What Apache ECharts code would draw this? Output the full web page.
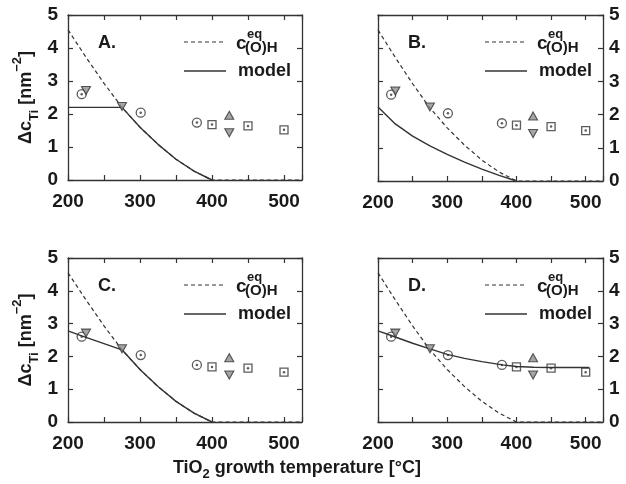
<!DOCTYPE html>
<html>
<head>
<meta charset="utf-8">
<script src="https://cdn.jsdelivr.net/npm/echarts@6/dist/echarts.min.js"></script>
<style>
  html, body { margin: 0; padding: 0; background: #fff; }
  #chart { width: 626px; height: 484px; }
</style>
</head>
<body>
<div id="chart"></div>
<script>
// equilibrium OH concentration (dashed)
const eqT = [200, 225, 250, 275, 300, 325, 350, 375, 400, 525];
const eqC = [4.55, 3.72, 2.93, 2.2, 1.6, 1.08, 0.63, 0.27, 0, 0];

// model curves, one per panel
const modelAT = [200, 275, 300, 325, 350, 375, 400];
const modelAC = [2.2, 2.2, 1.6, 1.08, 0.63, 0.27, 0];
const modelBT = [200, 225, 250, 275, 300, 325, 350, 375, 400];
const modelBC = [2.23, 1.72, 1.35, 1.06, 0.8, 0.57, 0.36, 0.17, 0];
const modelCT = [200, 220, 275, 300, 325, 350, 375, 400];
const modelCC = [2.78, 2.62, 2.2, 1.6, 1.08, 0.63, 0.27, 0];
const modelDT = [200, 220, 250, 275, 300, 325, 350, 380, 400, 425, 450, 475, 505];
const modelDC = [2.78, 2.63, 2.4, 2.23, 2.06, 1.94, 1.84, 1.74, 1.69, 1.67, 1.66, 1.66, 1.66];

// experimental points (same in every panel)
const circleT = [219, 301, 379];
const circleC = [2.6, 2.04, 1.74];
const squareT = [400, 450, 500];
const squareC = [1.68, 1.64, 1.52];
const downT = [225, 275, 424];
const downC = [2.71, 2.23, 1.43];
const upT = [424];
const upC = [1.96];

const panelNames = ['A.', 'B.', 'C.', 'D.'];
const xTickLabels = [200, 300, 400, 500];
const yTickLabels = [0, 1, 2, 3, 4, 5];

const modelT = [modelAT, modelBT, modelCT, modelDT];
const modelC = [modelAC, modelBC, modelCC, modelDC];

const zip = (xs, ys) => xs.map((x, i) => [x, ys[i]]);

const ink = '#333';
const font = 'Liberation Sans, Arial, Helvetica, sans-serif';

const grids = [
  { left: 68, top: 15, width: 234, height: 165 },
  { left: 378, top: 15, width: 225, height: 166 },
  { left: 68, top: 258, width: 234, height: 164 },
  { left: 378, top: 258, width: 225, height: 164 }
];

const axisLine = { show: true, onZero: false, lineStyle: { color: ink, width: 1.3 } };
const axisTick = { show: true, inside: true, length: 5, lineStyle: { color: ink, width: 1.2 } };
const labelStyle = { color: '#1a1a1a', fontSize: 19, fontWeight: 'bold', fontFamily: font };

const xAxis = [];
const yAxis = [];
const series = [];
const graphic = [];

grids.forEach((g, i) => {
  const leftPanel = i % 2 === 0;
  xAxis.push({
    gridIndex: i, type: 'value', position: 'bottom', min: 200, max: 525, interval: 50,
    axisLine, axisTick, splitLine: { show: false },
    axisLabel: Object.assign({
      margin: 12,
      formatter: v => (xTickLabels.includes(v) ? String(v) : '')
    }, labelStyle)
  });
  xAxis.push({
    gridIndex: i, type: 'value', position: 'top', min: 200, max: 525, interval: 50,
    axisLine, axisTick, splitLine: { show: false }, axisLabel: { show: false }
  });
  const yMain = {
    gridIndex: i, type: 'value', position: leftPanel ? 'left' : 'right', min: 0, max: 5, interval: 1,
    axisLine, axisTick, splitLine: { show: false },
    axisLabel: Object.assign({
      margin: leftPanel ? 10 : 6,
      formatter: v => (yTickLabels.includes(v) ? String(v) : '')
    }, labelStyle)
  };
  if (leftPanel) {
    yMain.name = '{b|Δc}{sub|Ti}{b| [nm}{sup|−2}{b|]}';
    yMain.nameLocation = 'middle';
    yMain.nameRotate = 90;
    yMain.nameGap = 27;
    yMain.nameTextStyle = {
      color: '#1a1a1a', fontFamily: font, fontWeight: 'bold',
      rich: {
        b: { fontSize: 18, fontWeight: 'bold', fontFamily: font, lineHeight: 30, color: '#1a1a1a' },
        sub: { fontSize: 13, fontWeight: 'bold', fontFamily: font, lineHeight: 20, verticalAlign: 'bottom', color: '#1a1a1a' },
        sup: { fontSize: 13, fontWeight: 'bold', fontFamily: font, lineHeight: 18, verticalAlign: 'top', color: '#1a1a1a' }
      }
    };
  }
  yAxis.push(yMain);
  yAxis.push({
    gridIndex: i, type: 'value', position: leftPanel ? 'right' : 'left', min: 0, max: 5, interval: 1,
    axisLine, axisTick, splitLine: { show: false }, axisLabel: { show: false }
  });

  const xi = i * 2, yi = i * 2;
  series.push({
    type: 'line', name: 'c_eq', xAxisIndex: xi, yAxisIndex: yi, data: zip(eqT, eqC),
    showSymbol: false, z: 2, lineStyle: { color: ink, width: 1.2, type: [4, 3] }
  });
  series.push({
    type: 'line', name: 'model', xAxisIndex: xi, yAxisIndex: yi, data: zip(modelT[i], modelC[i]),
    showSymbol: false, z: 2, lineStyle: { color: ink, width: 1.4 }
  });
  const open = { color: 'rgba(0,0,0,0)', borderColor: ink, borderWidth: 1.3 };
  const gray = { color: '#8f8f8f', borderColor: ink, borderWidth: 1.1 };
  series.push({
    type: 'scatter', xAxisIndex: xi, yAxisIndex: yi, data: zip(circleT, circleC),
    symbol: 'circle', symbolSize: 9, itemStyle: open, z: 3
  });
  series.push({
    type: 'scatter', xAxisIndex: xi, yAxisIndex: yi, data: zip(squareT, squareC),
    symbol: 'rect', symbolSize: 8, itemStyle: open, z: 3
  });
  series.push({
    type: 'scatter', xAxisIndex: xi, yAxisIndex: yi, data: zip(circleT.concat(squareT), circleC.concat(squareC)),
    symbol: 'circle', symbolSize: 2.5, itemStyle: { color: ink }, z: 4
  });
  series.push({
    type: 'scatter', xAxisIndex: xi, yAxisIndex: yi, data: zip(downT, downC),
    symbol: 'triangle', symbolRotate: 180, symbolSize: [9, 8], itemStyle: gray, z: 3
  });
  series.push({
    type: 'scatter', xAxisIndex: xi, yAxisIndex: yi, data: zip(upT, upC),
    symbol: 'triangle', symbolSize: [9, 8], itemStyle: gray, z: 3
  });

  // panel letter and legend
  const R = g.left + g.width, T = g.top;
  const txt = (x, y, text, size) => ({
    type: 'text', x, y, z: 10,
    style: { text, fill: '#1a1a1a', font: `bold ${size}px ${font}`, align: 'left', verticalAlign: 'middle' }
  });
  graphic.push(txt(g.left + 30, T + 28, panelNames[i], 18));
  graphic.push({
    type: 'line', z: 10, shape: { x1: R - 118, y1: T + 27, x2: R - 77, y2: T + 27 },
    style: { stroke: ink, lineWidth: 1.2, lineDash: [4, 3] }
  });
  graphic.push({
    type: 'line', z: 10, shape: { x1: R - 118, y1: T + 56, x2: R - 76, y2: T + 56 },
    style: { stroke: ink, lineWidth: 1.4 }
  });
  graphic.push(txt(R - 66, T + 29, 'c', 19));
  graphic.push(txt(R - 55, T + 19, 'eq', 13));
  graphic.push(txt(R - 57, T + 33, '(O)H', 15));
  graphic.push(txt(R - 64, T + 56, 'model', 18));
});

graphic.push({
  type: 'text', x: 297, y: 468, z: 10,
  style: {
    text: '{b|TiO}{sub|2}{b| growth temperature [°C]}',
    align: 'center', verticalAlign: 'middle',
    rich: {
      b: { fontSize: 18, fontWeight: 'bold', fontFamily: font, lineHeight: 26, fill: '#1a1a1a', color: '#1a1a1a' },
      sub: { fontSize: 13, fontWeight: 'bold', fontFamily: font, lineHeight: 16, verticalAlign: 'bottom', fill: '#1a1a1a', color: '#1a1a1a' }
    }
  }
});

const chart = echarts.init(document.getElementById('chart'));
chart.setOption({
  animation: false,
  backgroundColor: '#fff',
  grid: grids,
  xAxis,
  yAxis,
  series,
  graphic
});
window.addEventListener('resize', () => chart.resize());
</script>
</body>
</html>
